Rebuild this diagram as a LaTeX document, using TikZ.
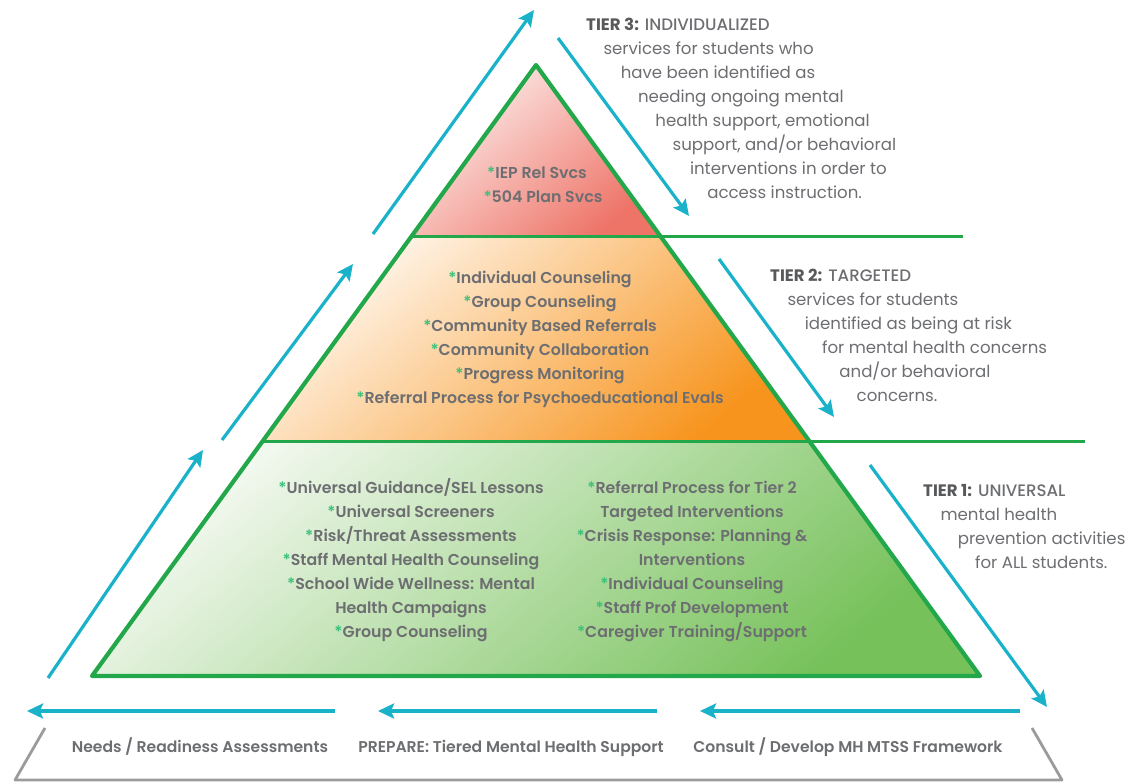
\documentclass[tikz,border=0pt]{standalone}
\usepackage{fontspec}
\setmainfont{Poppins}
\newfontfamily\psemi{Poppins SemiBold}
\newfontfamily\pmed{Poppins Medium}
\newfontfamily\pbold{Poppins Bold}
\usetikzlibrary{arrows.meta}
\definecolor{pgreen}{HTML}{22A84A}
\definecolor{teal}{HTML}{1AB2C8}
\definecolor{tgray}{HTML}{6D6E71}
\definecolor{dgray}{HTML}{58595B}
\definecolor{stargreen}{HTML}{3CC07A}
\definecolor{redL}{HTML}{FDF0EE}
\definecolor{redD}{HTML}{EE7468}
\definecolor{orL}{HTML}{FFF8F0}
\definecolor{orD}{HTML}{F7941D}
\definecolor{grL}{HTML}{F4F9F1}
\definecolor{grD}{HTML}{76C15A}
\definecolor{baseg}{HTML}{9B9B9B}
\newcommand\st{{\color{stargreen}*}}
\tikzset{
  flowarrow/.style={draw=teal, line width=3.2pt, -{Stealth[length=16pt,width=15pt,inset=3pt]}},
  inner/.style={font=\psemi\fontsize{15.8}{24}\selectfont, text=tgray, inner sep=0pt, anchor=base},
  desc/.style={font=\fontsize{16.6}{24}\selectfont, text=tgray, inner sep=0pt, anchor=base west},
  baselabel/.style={font=\psemi\fontsize{15.6}{20}\selectfont, text=tgray, inner sep=0pt, anchor=base},
}
\begin{document}
\begin{tikzpicture}[x=1pt,y=-1pt]
\useasboundingbox (0,0) rectangle (1133,782);
% pyramid corners
\coordinate (apex) at (536,65);
\coordinate (t3l) at (412,236);
\coordinate (t3r) at (660,236);
\coordinate (t2l) at (263,441);
\coordinate (t2r) at (809,441);
\coordinate (bl) at (92,676);
\coordinate (br) at (980,676);
\coordinate (t3e) at (963,236);
\coordinate (t2e) at (1085,441);
% fills
\shade[top color=redL, bottom color=redD, shading angle=40] (apex) -- (t3r) -- (t3l) -- cycle;
\shade[top color=orL, bottom color=orD, shading angle=40] (t3l) -- (t3r) -- (t2r) -- (t2l) -- cycle;
\shade[top color=grL, bottom color=grD, shading angle=40] (t2l) -- (t2r) -- (br) -- (bl) -- cycle;
% outlines
\draw[pgreen, line width=3pt] (t3l) -- (t3e);
\draw[pgreen, line width=3pt] (t2l) -- (t2e);
\draw[pgreen, line width=4.2pt, line join=round] (apex) -- (br) -- (bl) -- cycle;
% arrows up-left side
\coordinate (a1s) at (48,678); \coordinate (a1e) at (203,450);
\coordinate (a2s) at (222,440); \coordinate (a2e) at (353,264);
\coordinate (a3s) at (373,234); \coordinate (a3e) at (534,10);
\draw[flowarrow] (a1s) -- (a1e);
\draw[flowarrow] (a2s) -- (a2e);
\draw[flowarrow] (a3s) -- (a3e);
% arrows down-right side
\coordinate (b1s) at (558,38); \coordinate (b1e) at (689,216);
\coordinate (b2s) at (719,259); \coordinate (b2e) at (834,417);
\coordinate (b3s) at (870,465); \coordinate (b3e) at (1047,707);
\draw[flowarrow] (b1s) -- (b1e);
\draw[flowarrow] (b2s) -- (b2e);
\draw[flowarrow] (b3s) -- (b3e);
% bottom arrows
\coordinate (c1s) at (1020,711); \coordinate (c1e) at (700,711);
\coordinate (c2s) at (657,711); \coordinate (c2e) at (378,711);
\coordinate (c3s) at (335,711); \coordinate (c3e) at (27,711);
\draw[flowarrow] (c1s) -- (c1e);
\draw[flowarrow] (c2s) -- (c2e);
\draw[flowarrow] (c3s) -- (c3e);
% base trapezoid
\coordinate (z1) at (45,728); \coordinate (z2) at (15,780);
\coordinate (z3) at (1062,780); \coordinate (z4) at (1032,728);
\draw[baseg, line width=2.8pt, line join=round] (z1) -- (z2) -- (z3) -- (z4);
\node[baselabel] (bl1) at (200,752) {Needs / Readiness Assessments};
\node[baselabel] (bl2) at (511,752) {PREPARE: Tiered Mental Health Support};
\node[baselabel] (bl3) at (848,752) {Consult / Develop MH MTSS Framework};
% tier 3 inner
\node[inner] (i31) at (537,178) {\st IEP Rel Svcs};
\node[inner] (i32) at (543,202) {\st 504 Plan Svcs};
% tier 2 inner
\foreach \t [count=\i] in {{\st Individual Counseling},{\st Group Counseling},{\st Community Based Referrals},{\st Community Collaboration},{\st Progress Monitoring},{\st Referral Process for Psychoeducational Evals}}
  \node[inner] (i2\i) at (540,259+24*\i) {\t};
% tier 1 inner, left column
\foreach \t [count=\i] in {{\st Universal Guidance/SEL Lessons},{\st Universal Screeners},{\st Risk/Threat Assessments},{\st Staff Mental Health Counseling},{\st School Wide Wellness: Mental},{Health Campaigns},{\st Group Counseling}}
  \node[inner] (il\i) at (411,469+24*\i) {\t};
% tier 1 inner, right column
\foreach \t [count=\i] in {{\st Referral Process for Tier 2},{Targeted Interventions},{\st Crisis Response: Planning \&},{Interventions},{\st Individual Counseling},{\st Staff Prof Development},{\st Caregiver Training/Support}}
  \node[inner] (ir\i) at (692,469+24*\i) {\t};
% tier 3 description
\node[desc] (d30) at (586,30) {{\pbold\color{dgray}TIER 3:} {\pmed INDIVIDUALIZED}};
\foreach \t [count=\i] in {{services for students who},{have been identified as},{needing ongoing mental},{health support, emotional},{support, and/or behavioral},{interventions in order to},{access instruction.}}
  \node[desc] (d3\i) at (586+17.3*\i,30+24*\i) {\t};
% tier 2 description
\node[desc] (d20) at (770,281) {{\pbold\color{dgray}TIER 2:} {\pmed TARGETED}};
\foreach \t [count=\i] in {{services for students},{identified as being at risk},{for mental health concerns},{and/or behavioral},{concerns.}}
  \node[desc] (d2\i) at (770+17.3*\i,281+24*\i) {\t};
% tier 1 description
\node[desc] (d10) at (923,496) {{\pbold\color{dgray}TIER 1:} {\pmed UNIVERSAL}};
\foreach \t [count=\i] in {{mental health},{prevention activities},{for ALL students.}}
  \node[desc] (d1\i) at (923+17.3*\i,496+24*\i) {\t};
\end{tikzpicture}
\end{document}
